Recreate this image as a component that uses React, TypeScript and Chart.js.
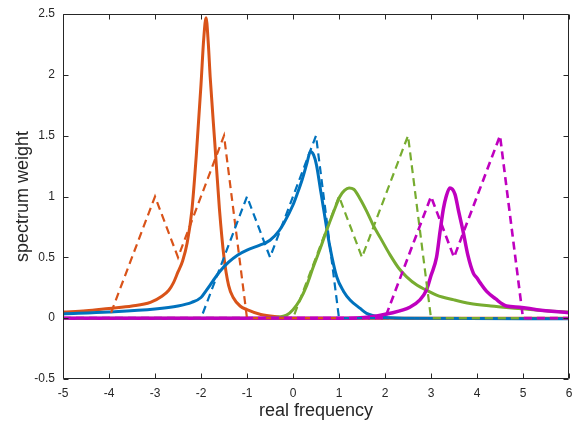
import React, { useEffect, useRef } from "react";
import { Chart, registerables } from "chart.js";

Chart.register(...registerables);

// ---- data ----
const orangeSolidX = [-5, -4.5, -4, -3.5, -3.1, -2.85, -2.7, -2.6, -2.5, -2.4, -2.3, -2.2, -2.1, -2.0, -1.94, -1.89, -1.84, -1.8, -1.7, -1.6, -1.5, -1.4, -1.3, -1.15, -1.0, -0.7, -0.3, 0, 1, 6];
const orangeSolidY = [0.05, 0.06, 0.08, 0.1, 0.13, 0.18, 0.23, 0.29, 0.38, 0.47, 0.62, 0.88, 1.35, 1.92, 2.3, 2.47, 2.25, 1.98, 1.44, 0.9, 0.5, 0.27, 0.17, 0.1, 0.07, 0.03, 0.01, 0.0, 0.0, 0.0];

const blueSolidX = [-5, -4, -3, -2.5, -2.2, -2.0, -1.88, -1.75, -1.6, -1.4, -1.2, -1.0, -0.72, -0.5, -0.3, -0.2, 0, 0.1, 0.2, 0.3, 0.38, 0.45, 0.51, 0.6, 0.66, 0.8, 0.95, 1.1, 1.24, 1.46, 1.6, 1.9, 2.5, 6];
const blueSolidY = [0.035, 0.05, 0.075, 0.1, 0.13, 0.17, 0.23, 0.3, 0.38, 0.46, 0.52, 0.56, 0.6, 0.64, 0.72, 0.78, 0.93, 1.03, 1.14, 1.27, 1.37, 1.34, 1.26, 1.05, 0.91, 0.59, 0.34, 0.22, 0.15, 0.08, 0.04, 0.01, 0.0, -0.005];

const greenSolidX = [-5, -0.5, -0.3, -0.14, 0, 0.15, 0.3, 0.44, 0.6, 0.73, 0.88, 1.02, 1.12, 1.22, 1.32, 1.46, 1.6, 1.75, 1.9, 2.11, 2.3, 2.47, 2.7, 2.9, 3.12, 3.5, 3.85, 4.3, 4.9, 5.5, 6];
const greenSolidY = [0, 0, 0.01, 0.025, 0.07, 0.15, 0.27, 0.42, 0.58, 0.72, 0.87, 1.0, 1.05, 1.07, 1.06, 0.98, 0.88, 0.76, 0.66, 0.52, 0.41, 0.34, 0.27, 0.23, 0.19, 0.15, 0.12, 0.1, 0.08, 0.06, 0.05];

const magentaSolidX = [-5, 1.0, 1.67, 2.11, 2.54, 2.76, 2.9, 3.0, 3.12, 3.2, 3.27, 3.33, 3.41, 3.52, 3.6, 3.7, 3.8, 3.92, 4.0, 4.07, 4.21, 4.4, 4.64, 4.93, 5.3, 6];
const magentaSolidY = [0, 0, 0.01, 0.04, 0.09, 0.15, 0.23, 0.35, 0.5, 0.72, 0.9, 1.0, 1.07, 1.02, 0.88, 0.71, 0.52, 0.37, 0.33, 0.29, 0.22, 0.16, 0.1, 0.09, 0.07, 0.045];

const orangeDashX = [-5, -4, -3, -2.5, -1.5, -1, 6];
const orangeDashY = [0, 0, 1, 0.5, 1.5, 0, 0];
const blueDashX = [-5, -2, -1, -0.5, 0.5, 1, 6];
const blueDashY = [0, 0, 1, 0.5, 1.5, 0, 0];
const greenDashX = [-5, 0, 1, 1.5, 2.5, 3, 6];
const greenDashY = [0, 0, 1, 0.5, 1.5, 0, 0];
const magentaDashX = [-5, 2, 3, 3.5, 4.5, 5, 6];
const magentaDashY = [0, 0, 1, 0.5, 1.5, 0, 0];

const xTicks = [-5, -4, -3, -2, -1, 0, 1, 2, 3, 4, 5, 6];
const yTicks = [-0.5, 0, 0.5, 1, 1.5, 2, 2.5];

const BLUE = "#0072BD";
const ORANGE = "#D95319";
const GREEN = "#77AC30";
const MAGENTA = "#BF00BF";
const AXIS = "#262626";
const FONT = "'Liberation Sans', Arial, sans-serif";

const pts = (xs: number[], ys: number[]) => xs.map((x, i) => ({ x, y: ys[i] }));

const solid = (label: string, xs: number[], ys: number[], color: string, w: number) => ({
  label,
  data: pts(xs, ys),
  borderColor: color,
  backgroundColor: color,
  borderWidth: w,
  pointRadius: 0,
  cubicInterpolationMode: "monotone" as const,
  fill: false,
});

const dashed = (label: string, xs: number[], ys: number[], color: string, w: number) => ({
  label,
  data: pts(xs, ys),
  borderColor: color,
  backgroundColor: color,
  borderWidth: w,
  borderDash: [8, 5],
  pointRadius: 0,
  tension: 0,
  fill: false,
});

const boxPlugin = {
  id: "matlabBox",
  afterDatasetsDraw(chart: any) {
    const { ctx, chartArea, scales } = chart;
    const { left, right, top, bottom } = chartArea;
    const x = scales.x;
    const y = scales.y;
    ctx.save();
    ctx.strokeStyle = AXIS;
    ctx.lineWidth = 1;
    const L = Math.round(left) + 0.5;
    const R = Math.round(right) - 0.5;
    const T = Math.round(top) + 0.5;
    const B = Math.round(bottom) - 0.5;
    ctx.beginPath();
    ctx.moveTo(L, T);
    ctx.lineTo(R, T);
    ctx.lineTo(R, B);
    ctx.lineTo(L, B);
    ctx.closePath();
    const tl = 5;
    xTicks.forEach((v) => {
      const px = Math.round(x.getPixelForValue(v)) + 0.5;
      ctx.moveTo(px, B);
      ctx.lineTo(px, B - tl);
      ctx.moveTo(px, T);
      ctx.lineTo(px, T + tl);
    });
    yTicks.forEach((v) => {
      const py = Math.round(y.getPixelForValue(v)) + 0.5;
      ctx.moveTo(L, py);
      ctx.lineTo(L + tl, py);
      ctx.moveTo(R, py);
      ctx.lineTo(R - tl, py);
    });
    ctx.stroke();
    ctx.restore();
  },
};

export default function App() {
  const ref = useRef<HTMLCanvasElement | null>(null);
  useEffect(() => {
    if (!ref.current) return;
    const chart = new Chart(ref.current, {
      type: "line",
      data: {
        datasets: [
          dashed("magenta model", magentaDashX, magentaDashY, MAGENTA, 2.6),
          dashed("green model", greenDashX, greenDashY, GREEN, 2.2),
          dashed("blue model", blueDashX, blueDashY, BLUE, 2.2),
          dashed("orange model", orangeDashX, orangeDashY, ORANGE, 2.2),
          solid("magenta", magentaSolidX, magentaSolidY, MAGENTA, 3.5),
          solid("green", greenSolidX, greenSolidY, GREEN, 3),
          solid("blue", blueSolidX, blueSolidY, BLUE, 3),
          solid("orange", orangeSolidX, orangeSolidY, ORANGE, 3),
        ] as any,
      },
      options: {
        animation: false,
        responsive: false,
        devicePixelRatio: 1,
        layout: { padding: { top: 14, right: 5, left: 0, bottom: 0 } },
        plugins: { legend: { display: false }, tooltip: { enabled: false } },
        scales: {
          x: {
            type: "linear",
            min: -5,
            max: 6,
            afterBuildTicks: (s: any) => {
              s.ticks = xTicks.map((v) => ({ value: v }));
            },
            ticks: {
              padding: 7,
              color: AXIS,
              font: { family: FONT, size: 12 },
              maxRotation: 0,
              autoSkip: false,
              callback: (v: any) => String(v),
            },
            grid: { display: false, drawTicks: false },
            border: { display: false },
            title: {
              display: true,
              text: "real frequency",
              color: AXIS,
              font: { family: FONT, size: 18 },
              padding: { top: 0, bottom: 0 },
            },
            afterFit: (s: any) => {
              s.height = 43;
              s.paddingLeft = 0;
              s.paddingRight = 0;
            },
          },
          y: {
            type: "linear",
            min: -0.5,
            max: 2.5,
            afterBuildTicks: (s: any) => {
              s.ticks = yTicks.map((v) => ({ value: v }));
            },
            ticks: {
              padding: 8,
              color: AXIS,
              font: { family: FONT, size: 12 },
              autoSkip: false,
              callback: (v: any) => String(v),
            },
            grid: { display: false, drawTicks: false },
            border: { display: false },
            title: {
              display: true,
              text: "spectrum weight",
              color: AXIS,
              font: { family: FONT, size: 18 },
              padding: { top: 12, bottom: 0 },
            },
            afterFit: (s: any) => {
              s.width = 63;
              s.paddingTop = 0;
              s.paddingBottom = 0;
            },
          },
        },
      },
      plugins: [boxPlugin],
    });
    return () => chart.destroy();
  }, []);
  return (
    <div style={{ position: "absolute", left: 0, top: 0, width: 574, height: 422, background: "#fff" }}>
      <canvas ref={ref} width={574} height={422} style={{ display: "block" }} />
    </div>
  );
}
